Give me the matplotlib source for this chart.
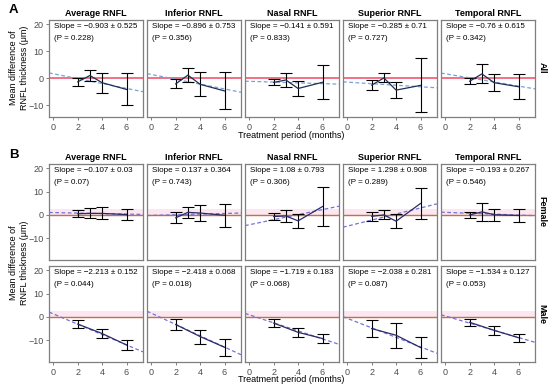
import matplotlib
matplotlib.use('Agg')
import matplotlib.pyplot as plt

plt.rcParams['font.family'] = ['Liberation Sans', 'DejaVu Sans']

# ---- data ----
regions = ['Average RNFL', 'Inferior RNFL', 'Nasal RNFL', 'Superior RNFL', 'Temporal RNFL']
months = [2, 3, 4, 6]
months_male = [2, 4, 6]

# all patients
all_mean = [[-1.4, 0.95, -1.7, -4.2],
            [-2.15, 1.1, -2.3, -4.75],
            [-1.6, -0.7, -3.85, -1.55],
            [-2.6, 0.05, -4.45, -2.7],
            [-1.15, 1.55, -1.7, -3.2]]
all_err = [[1.5, 2.05, 3.7, 5.9],
           [1.65, 2.5, 4.4, 6.85],
           [1.1, 2.65, 2.65, 6.35],
           [1.8, 1.65, 3.05, 10.0],
           [1.05, 3.55, 3.1, 4.6]]
all_slope = [-0.903, -0.896, -0.141, -0.285, -0.76]
all_se = [0.525, 0.753, 0.591, 0.71, 0.615]
all_p = [0.228, 0.356, 0.833, 0.727, 0.342]
all_icpt = [1.6, 1.35, -1.2, -1.5, 1.6]

# female
fem_mean = [[0.5, 0.65, 0.65, 0.15],
            [-1.25, 1.1, 0.8, -0.15],
            [-0.7, -0.45, -2.55, 3.6],
            [-0.6, 0.0, -2.7, 4.9],
            [0.0, 1.3, 0.1, -0.25]]
fem_err = [[1.5, 2.15, 2.55, 2.5],
           [2.35, 2.5, 3.5, 4.85],
           [1.4, 2.45, 2.85, 8.3],
           [2.0, 1.9, 3.0, 6.8],
           [1.4, 3.7, 2.5, 2.65]]
fem_slope = [-0.107, 0.137, 1.08, 1.298, -0.193]
fem_se = [0.03, 0.364, 0.793, 0.908, 0.267]
fem_p = [0.07, 0.743, 0.306, 0.289, 0.546]
fem_icpt = [1.0, -0.2, -4.2, -4.8, 1.1]

# male
male_mean = [[-3.05, -7.1, -12.0],
             [-3.25, -8.4, -13.0],
             [-2.65, -6.6, -9.25],
             [-5.0, -7.85, -13.1],
             [-2.3, -5.75, -8.9]]
male_err = [[1.65, 1.8, 2.3],
            [2.15, 3.0, 3.7],
            [1.65, 2.0, 1.85],
            [3.6, 5.45, 4.5],
            [1.6, 1.85, 1.8]]
male_slope = [-2.213, -2.418, -1.719, -2.038, -1.534]
male_se = [0.152, 0.068, 0.183, 0.281, 0.127]
male_p = [0.044, 0.018, 0.068, 0.087, 0.053]
male_icpt = [1.3, 1.6, 0.9, -0.6, 0.4]

W, H = 550, 391
fig = plt.figure(figsize=(W / 100, H / 100), dpi=100)

GRAY = '#4d4d4d'


def fmt(v):
    return str(v).replace('-', '\u2212')


def make_ax(col, top, h, ylim):
    # pixel box -> figure fraction
    left = 49 + col * 98
    ax = fig.add_axes([left / W, (H - top - h) / H, 94 / W, h / H])
    ax.set_xlim(-0.35, 7.35)
    ax.set_ylim(*ylim)
    for s in ax.spines.values():
        s.set_color('#7f7f7f')
        s.set_linewidth(0.9)
    ax.tick_params(colors='#7f7f7f', labelcolor=GRAY, labelsize=6.5,
                   length=2.5, width=0.7, pad=1.5)
    ax.set_xticks([0, 2, 4, 6])
    ax.set_yticks([-10, 0, 10, 20])
    return ax


def draw(ax, x, mean, err, slope, se, p, icpt, sub):
    if sub:
        ax.axhspan(0, 2.5, color='#fce6ef', lw=0, zorder=0)
        ax.axhline(0, color='#c0704a', lw=1.0, zorder=1)
        dash_c, line_c = '#7272d8', '#2b2b66'
    else:
        ax.axhline(0, color='#f04a66', lw=1.1, zorder=1)
        dash_c, line_c = '#78a2d2', '#1f2f55'
    ax.axline((0, icpt), slope=slope, color=dash_c, ls=(0, (3, 2)), lw=0.9, zorder=2)
    ax.errorbar(x, mean, yerr=err, fmt='none', ecolor='black', elinewidth=0.8,
                capsize=4, capthick=0.8, zorder=3)
    ax.plot(x, mean, color=line_c, lw=0.9, zorder=4)
    ax.annotate('Slope = %s \u00b1 %s' % (fmt(slope), fmt(se)), xy=(0, 1),
                xycoords='axes fraction', xytext=(3.6, -5), textcoords='offset points',
                ha='left', va='center', fontsize=5.8)
    ax.annotate('(P = %s)' % fmt(p), xy=(0, 1), xycoords='axes fraction',
                xytext=(3.6, -13.3), textcoords='offset points',
                ha='left', va='center', fontsize=5.8)


for i in range(5):
    # section A
    ax = make_ax(i, 20, 97, (-14.4, 21.5))
    draw(ax, months, all_mean[i], all_err[i], all_slope[i], all_se[i], all_p[i], all_icpt[i], False)
    ax.set_title(regions[i], fontsize=6.5, fontweight='bold', pad=3)
    if i > 0:
        ax.tick_params(axis='y', left=False, labelleft=False)

    # section B female
    ax = make_ax(i, 164, 96, (-19.3, 21.8))
    draw(ax, months, fem_mean[i], fem_err[i], fem_slope[i], fem_se[i], fem_p[i], fem_icpt[i], True)
    ax.set_title(regions[i], fontsize=6.5, fontweight='bold', pad=3)
    ax.tick_params(axis='x', bottom=False, labelbottom=False)
    if i > 0:
        ax.tick_params(axis='y', left=False, labelleft=False)

    # section B male
    ax = make_ax(i, 266, 96, (-19.3, 21.8))
    draw(ax, months_male, male_mean[i], male_err[i], male_slope[i], male_se[i], male_p[i], male_icpt[i], True)
    if i > 0:
        ax.tick_params(axis='y', left=False, labelleft=False)

# labels, strips, panel letters
ylab = 'Mean difference of\nRNFL thickness (\u03bcm)'
fig.text(19 / W, 1 - 68 / H, ylab, rotation=90, ha='center', va='center', fontsize=6.5, linespacing=1.35)
fig.text(19 / W, 1 - 263 / H, ylab, rotation=90, ha='center', va='center', fontsize=6.5, linespacing=1.35)
fig.text(291.5 / W, 1 - 135 / H, 'Treatment period (months)', ha='center', va='center', fontsize=6.5)
fig.text(291.5 / W, 1 - 380 / H, 'Treatment period (months)', ha='center', va='center', fontsize=6.5)

fig.text(542 / W, 1 - 68 / H, 'All', rotation=-90, ha='center', va='center', fontsize=6.5, fontweight='bold')
fig.text(542 / W, 1 - 212 / H, 'Female', rotation=-90, ha='center', va='center', fontsize=6.5, fontweight='bold')
fig.text(542 / W, 1 - 314 / H, 'Male', rotation=-90, ha='center', va='center', fontsize=6.5, fontweight='bold')

fig.text(13.5 / W, 1 - 10 / H, 'A', ha='center', va='center', fontsize=9.5, fontweight='bold')
fig.text(14 / W, 1 - 155.5 / H, 'B', ha='center', va='center', fontsize=9.5, fontweight='bold')

fig.savefig('out.png', dpi=100)
